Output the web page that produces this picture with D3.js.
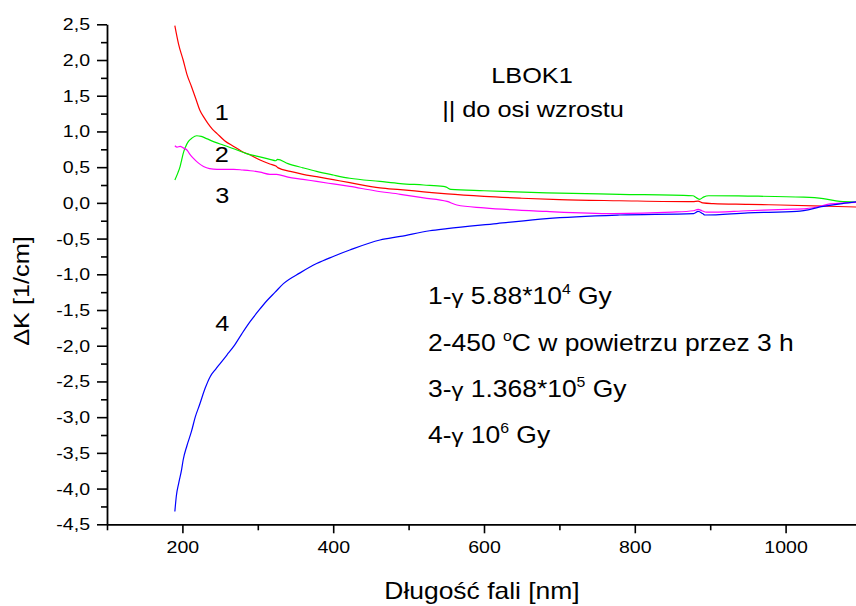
<!DOCTYPE html>
<html>
<head>
<meta charset="utf-8">
<script src="https://cdn.jsdelivr.net/npm/d3@7"></script>
<style>
  html, body { margin: 0; padding: 0; background: #fff; }
  svg { display: block; font-family: "Liberation Sans", Arial, sans-serif; }
</style>
</head>
<body>
<svg id="chart" width="856" height="606"></svg>
<script>
// Absorption change spectra, ΔK [1/cm] versus wavelength [nm]
const curve1 = [[190,2.48],[195,2.22],[201,2.0],[206,1.80],[212,1.63],[218,1.45],[223,1.30],[229,1.19],[234,1.11],[240,1.03],[246,0.97],[256,0.87],[268,0.79],[279,0.72],[290,0.67],[303,0.60],[316,0.545],[324,0.515],[327,0.49],[343,0.44],[360,0.40],[378,0.367],[400,0.325],[422,0.283],[462,0.21],[489,0.185],[520,0.155],[551,0.125],[600,0.09],[650,0.065],[700,0.045],[780,0.03],[877,0.017],[884,0.025],[890,0.0],[904,-0.01],[950,-0.02],[993,-0.03],[1050,-0.045],[1100,-0.06]];
const curve2 = [[190,0.32],[194,0.42],[197,0.51],[199,0.60],[201,0.69],[204,0.78],[208,0.86],[213,0.91],[219,0.94],[225,0.93],[232,0.90],[243,0.85],[254,0.81],[270,0.75],[285,0.69],[300,0.65],[316,0.61],[324,0.59],[326,0.61],[340,0.55],[360,0.49],[378,0.44],[400,0.39],[422,0.345],[462,0.30],[489,0.27],[520,0.25],[546,0.23],[550,0.22],[556,0.19],[600,0.17],[683,0.14],[780,0.12],[877,0.10],[882,0.07],[886,0.05],[891,0.08],[898,0.10],[950,0.095],[1024,0.08],[1050,0.06],[1072,0.02],[1100,0.01]];
const curve3 = [[190,0.80],[193,0.78],[197,0.79],[201,0.77],[206,0.74],[210,0.68],[215,0.62],[221,0.56],[228,0.51],[236,0.48],[246,0.47],[258,0.47],[268,0.47],[280,0.46],[290,0.45],[303,0.43],[316,0.40],[325,0.40],[340,0.36],[360,0.33],[378,0.30],[400,0.265],[422,0.23],[455,0.17],[489,0.12],[520,0.07],[551,0.02],[564,-0.03],[600,-0.07],[683,-0.12],[771,-0.15],[850,-0.13],[878,-0.11],[884,-0.09],[889,-0.11],[895,-0.13],[949,-0.11],[1000,-0.09],[1028,-0.08],[1045,-0.05],[1059,-0.015],[1100,0.01]];
const curve4 = [[190,-4.32],[192,-4.10],[195,-3.93],[199,-3.73],[201,-3.60],[206,-3.40],[212,-3.20],[217,-3.00],[223,-2.82],[230,-2.60],[237,-2.43],[244,-2.33],[250,-2.25],[259,-2.13],[268,-2.01],[279,-1.83],[290,-1.66],[301,-1.51],[312,-1.37],[323,-1.25],[334,-1.13],[356,-0.98],[378,-0.85],[400,-0.75],[422,-0.66],[462,-0.52],[489,-0.47],[528,-0.39],[551,-0.36],[617,-0.29],[683,-0.22],[780,-0.17],[878,-0.15],[884,-0.12],[890,-0.15],[893,-0.17],[950,-0.14],[1015,-0.12],[1050,-0.05],[1075,-0.01],[1100,0.02]];

const seriesColors = ["#ff0000", "#00ee00", "#ff00ff", "#0000ff"];
const curveNames = ["1", "2", "3", "4"];
const curveNameAt = [[221.7, 111.7], [221.7, 154], [222.3, 195], [222.3, 323.3]];

const xMajorTicks = [200, 400, 600, 800, 1000];
const xMinorTicks = [100, 300, 500, 700, 900, 1100];
const yMajorTicks = [2.5, 2.0, 1.5, 1.0, 0.5, 0.0, -0.5, -1.0, -1.5, -2.0, -2.5, -3.0, -3.5, -4.0, -4.5];
const yMinorTicks = d3.range(-4.25, 2.5, 0.5);

const titleLines = ["LBOK1", "|| do osi wzrostu"];
const xTitle = "Długość fali [nm]";
const yTitle = "ΔK [1/cm]";

// Text is drawn slightly widened horizontally
const SX = 1.15;

const svg = d3.select("#chart");
const margin = { left: 107, top: 24.3, right: 861, bottom: 524.3 };

const x = d3.scaleLinear().domain([100, 1100]).range([margin.left, margin.right]);
const y = d3.scaleLinear().domain([-4.5, 2.5]).range([margin.bottom, margin.top]);

const fmtY = v => v.toFixed(1).replace(".", ",");
const fmtX = v => String(v);

// Minor ticks
svg.append("g")
  .attr("transform", `translate(0,${margin.bottom})`)
  .call(d3.axisBottom(x).tickValues(xMinorTicks).tickSize(6).tickFormat(""))
  .call(g => g.select(".domain").remove());
svg.append("g")
  .attr("transform", `translate(${margin.left},0)`)
  .call(d3.axisLeft(y).tickValues(yMinorTicks).tickSize(6).tickFormat(""))
  .call(g => g.select(".domain").remove());

// Major axes
const xAxis = svg.append("g")
  .attr("transform", `translate(0,${margin.bottom})`)
  .call(d3.axisBottom(x).tickValues(xMajorTicks).tickSize(9).tickSizeOuter(0).tickPadding(8).tickFormat(fmtX));
const yAxis = svg.append("g")
  .attr("transform", `translate(${margin.left},0)`)
  .call(d3.axisLeft(y).tickValues(yMajorTicks).tickSize(10).tickSizeOuter(0).tickFormat(fmtY));

svg.selectAll(".tick line").attr("stroke", "#000").attr("stroke-width", 1.6);
svg.selectAll(".domain").attr("stroke", "#000").attr("stroke-width", 1.8);

xAxis.selectAll("text")
  .attr("font-size", 17).attr("fill", "#000")
  .attr("font-family", "Liberation Sans, Arial, sans-serif")
  .attr("transform", `scale(${SX},1)`);
yAxis.selectAll("text")
  .attr("font-size", 17).attr("fill", "#000")
  .attr("font-family", "Liberation Sans, Arial, sans-serif")
  .attr("x", -17 / SX)
  .attr("transform", `scale(${SX},1)`);

// Curves
const line = d3.line().x(d => x(d[0])).y(d => y(d[1])).curve(d3.curveMonotoneX);
[curve1, curve2, curve3, curve4].forEach((c, i) => {
  svg.append("path")
    .datum(c)
    .attr("d", line)
    .attr("fill", "none")
    .attr("stroke", seriesColors[i])
    .attr("stroke-width", 1.2);
});

// Helper for widened text
function label(px, py, size, anchor) {
  return svg.append("text")
    .attr("transform", `translate(${px},${py}) scale(${SX},1)`)
    .attr("font-size", size)
    .attr("text-anchor", anchor || "start")
    .attr("fill", "#000");
}

// Curve numbers
curveNames.forEach((n, i) => {
  label(curveNameAt[i][0], curveNameAt[i][1], 22, "middle")
    .attr("dy", "0.36em")
    .text(n);
});

// Sample title
label(532, 83, 22, "middle").text(titleLines[0]);
label(533, 117, 22, "middle").text(titleLines[1]);

// Legend lines with superscripts
function legendLine(py, parts) {
  const t = label(428, py, 23, "start");
  parts.forEach(p => {
    const ts = t.append("tspan").text(p.t);
    if (p.sup) ts.attr("font-size", "0.6em").attr("dy", "-0.75em");
    if (p.after) ts.attr("dy", "0.45em");
    if (p.g) ts.attr("font-size", "0.9em");
  });
}
legendLine(304, [{ t: "1-" }, { t: "γ", g: true }, { t: " 5.88*10" }, { t: "4", sup: true }, { t: " Gy", after: true }]);
legendLine(351, [{ t: "2-450 " }, { t: "o", sup: true }, { t: "C w powietrzu przez 3 h", after: true }]);
legendLine(397, [{ t: "3-" }, { t: "γ", g: true }, { t: " 1.368*10" }, { t: "5", sup: true }, { t: " Gy", after: true }]);
legendLine(443, [{ t: "4-" }, { t: "γ", g: true }, { t: " 10" }, { t: "6", sup: true }, { t: " Gy", after: true }]);

// Axis titles
label(482, 599, 23, "middle").text(xTitle);
svg.append("text")
  .attr("transform", `translate(29,291) rotate(-90) scale(${SX},1)`)
  .attr("font-size", 22)
  .attr("text-anchor", "middle")
  .attr("fill", "#000")
  .text(yTitle);
</script>
</body>
</html>
